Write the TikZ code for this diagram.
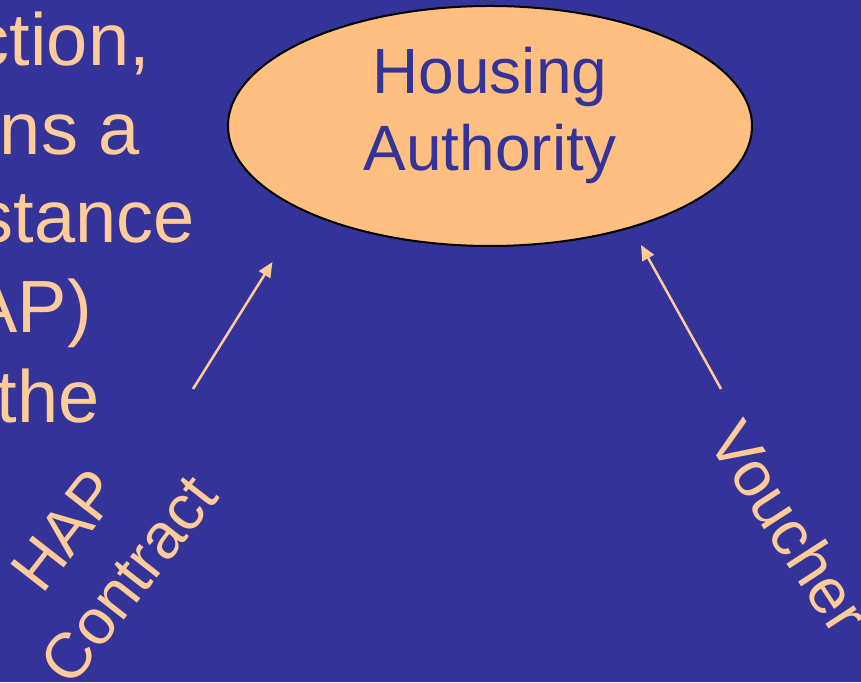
\documentclass[tikz,border=0pt]{standalone}
\usepackage{fontspec}
\setmainfont{Liberation Sans}
\usetikzlibrary{shapes.geometric,arrows.meta}
\definecolor{slidecolor}{RGB}{51,51,153}
\definecolor{peachcolor}{RGB}{255,204,153}
\definecolor{ovalcolor}{RGB}{255,191,128}

\begin{document}
\begin{tikzpicture}[%
    x=1pt, y=1pt,                           % one unit is one pixel of the slide
    >={Triangle[length=15pt,width=13pt]},   % Filled arrow heads
    ]
\tikzset{
  body/.style={text=peachcolor, inner sep=0pt, anchor=base east, font=\fontsize{74}{89}\selectfont},
  oval/.style={ellipse, draw=black, line width=2pt, fill=ovalcolor, text=slidecolor, align=center,
               minimum width=524pt, minimum height=240pt, text depth=35pt, font=\fontsize{64}{77}\selectfont},
  tilted/.style={text=peachcolor, inner sep=0pt, align=center, font=\fontsize{64}{80}\selectfont},
  norm/.style={draw=peachcolor, line width=2.5pt},
}

% slide background
\fill [slidecolor] (0,0) rectangle (861,682);
\useasboundingbox (0,0) rectangle (861,682);
\clip (0,0) rectangle (861,682);

% body text, cut at the left edge
\node [body] (t1) at (150,616) {ction,};
\node [body] (t2) at (140,527) {ns a};
\node [body] (t3) at (195,439) {stance};
\node [body] (t4) at (92,349) {AP)};
\node [body] (t5) at (100,259) {the};

\node [oval] (ha) at (490,556) {Housing\\Authority};

\coordinate (hapfrom) at (193,293);
\coordinate (hapto) at (272.5,420);
\coordinate (vchfrom) at (721,293);
\coordinate (vchto) at (641,437);

\draw [->, norm] (hapfrom) -- (hapto);
\draw [->, norm] (vchfrom) -- (vchto);

\node [tilted, rotate=52] (hap) at (97,127) {HAP\\Contract};
\node [tilted, rotate=-57] (vch) at (790,155) {Voucher};

\end{tikzpicture}
\end{document}
